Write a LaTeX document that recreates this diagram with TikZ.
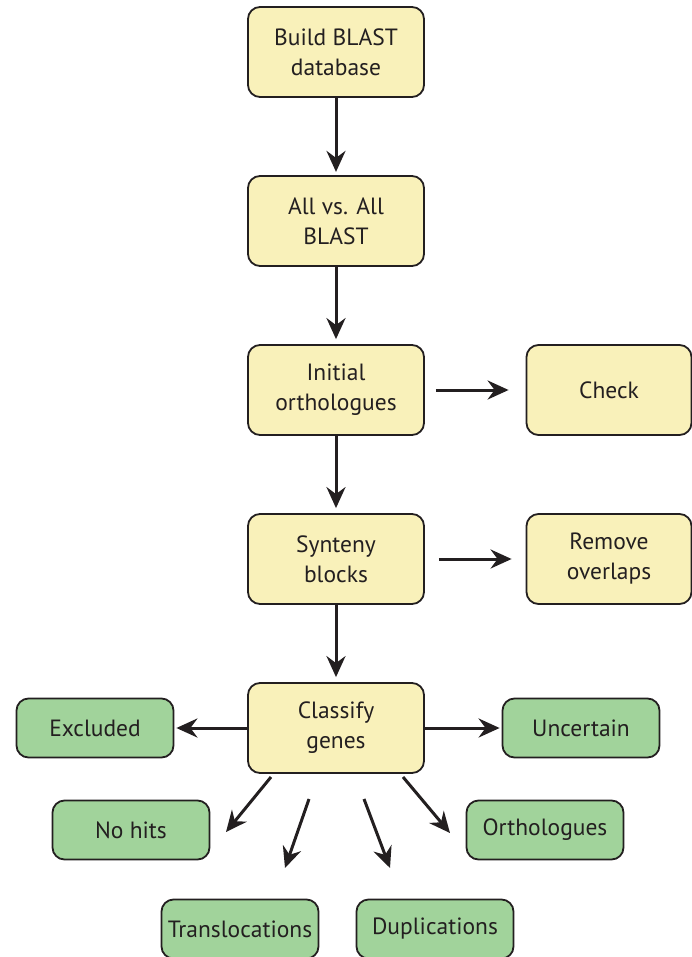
\documentclass[tikz,border=0pt]{standalone}
\usepackage{fontspec}
\setmainfont{PT Sans}
\usetikzlibrary{arrows.meta,calc}
\definecolor{ink}{HTML}{231F20}
\definecolor{stepfill}{HTML}{F9F1BA}
\definecolor{leaffill}{HTML}{A1D39B}
\begin{document}
\begin{tikzpicture}[x=1pt,y=-1pt,
  font=\fontsize{23.5}{30}\selectfont,
  base/.style={draw=ink,line width=1.8pt,rounded corners=12pt,align=center,
    text=ink,inner sep=0pt},
  stepbox/.style={base,fill=stepfill,minimum width=176pt,minimum height=90pt},
  sidebox/.style={base,fill=stepfill,minimum width=165pt,minimum height=90pt},
  leafbox/.style={base,fill=leaffill,minimum width=157pt,minimum height=59pt},
  flow/.style={draw=ink,line width=3pt,
    -{Stealth[length=21pt,width=19pt,inset=7pt]}}]
\useasboundingbox (0,0) rectangle (692,957);

% main pipeline
\node[stepbox] (db)   at (336,52)  {Build BLAST\\database};
\node[stepbox] (all)  at (336,221) {All vs. All\\BLAST};
\node[stepbox] (init) at (336,390) {Initial\\orthologues};
\node[stepbox] (syn)  at (336,559) {Synteny\\blocks};
\node[stepbox] (cls)  at (336,728) {Classify\\genes};

% side steps
\node[sidebox] (chk) at (609,390) {Check};
\node[sidebox] (rem) at (609,559) {Remove\\overlaps};

% gene classes
\node[leafbox] (exc) at (95,728)  {Excluded};
\node[leafbox] (unc) at (581,728) {Uncertain};
\node[leafbox] (noh) at (131,830) {No hits};
\node[leafbox] (ort) at (545,830) {Orthologues};
\node[leafbox] (tra) at (240,929) {Translocations};
\node[leafbox] (dup) at (435,929) {Duplications};

% vertical flow
\draw[flow] (db.south)   -- ++(0,74);
\draw[flow] (all.south)  -- ($(init.north)+(0,-5)$);
\draw[flow] (init.south) -- ($(syn.north)+(0,-5)$);
\draw[flow] (syn.south)  -- ($(cls.north)+(0,-5)$);

% side flow
\draw[flow] ($(init.east)+(11,0)$) -- ($(chk.west)+(-17,0)$);
\draw[flow] ($(syn.east)+(14,0)$)  -- ($(rem.west)+(-14,0)$);

% classification arrows
\draw[flow] (cls.west) -- ($(exc.east)+(2,0)$);
\draw[flow] (cls.east) -- ($(unc.west)+(-2,0)$);

\coordinate (n0) at (271,777); \coordinate (n1) at (226,832);
\coordinate (t0) at (309,799); \coordinate (t1) at (285,868);
\coordinate (d0) at (364,799); \coordinate (d1) at (390,868);
\coordinate (o0) at (403,777); \coordinate (o1) at (450,833);
\draw[flow] (n0) -- (n1);
\draw[flow] (t0) -- (t1);
\draw[flow] (d0) -- (d1);
\draw[flow] (o0) -- (o1);
\end{tikzpicture}
\end{document}
